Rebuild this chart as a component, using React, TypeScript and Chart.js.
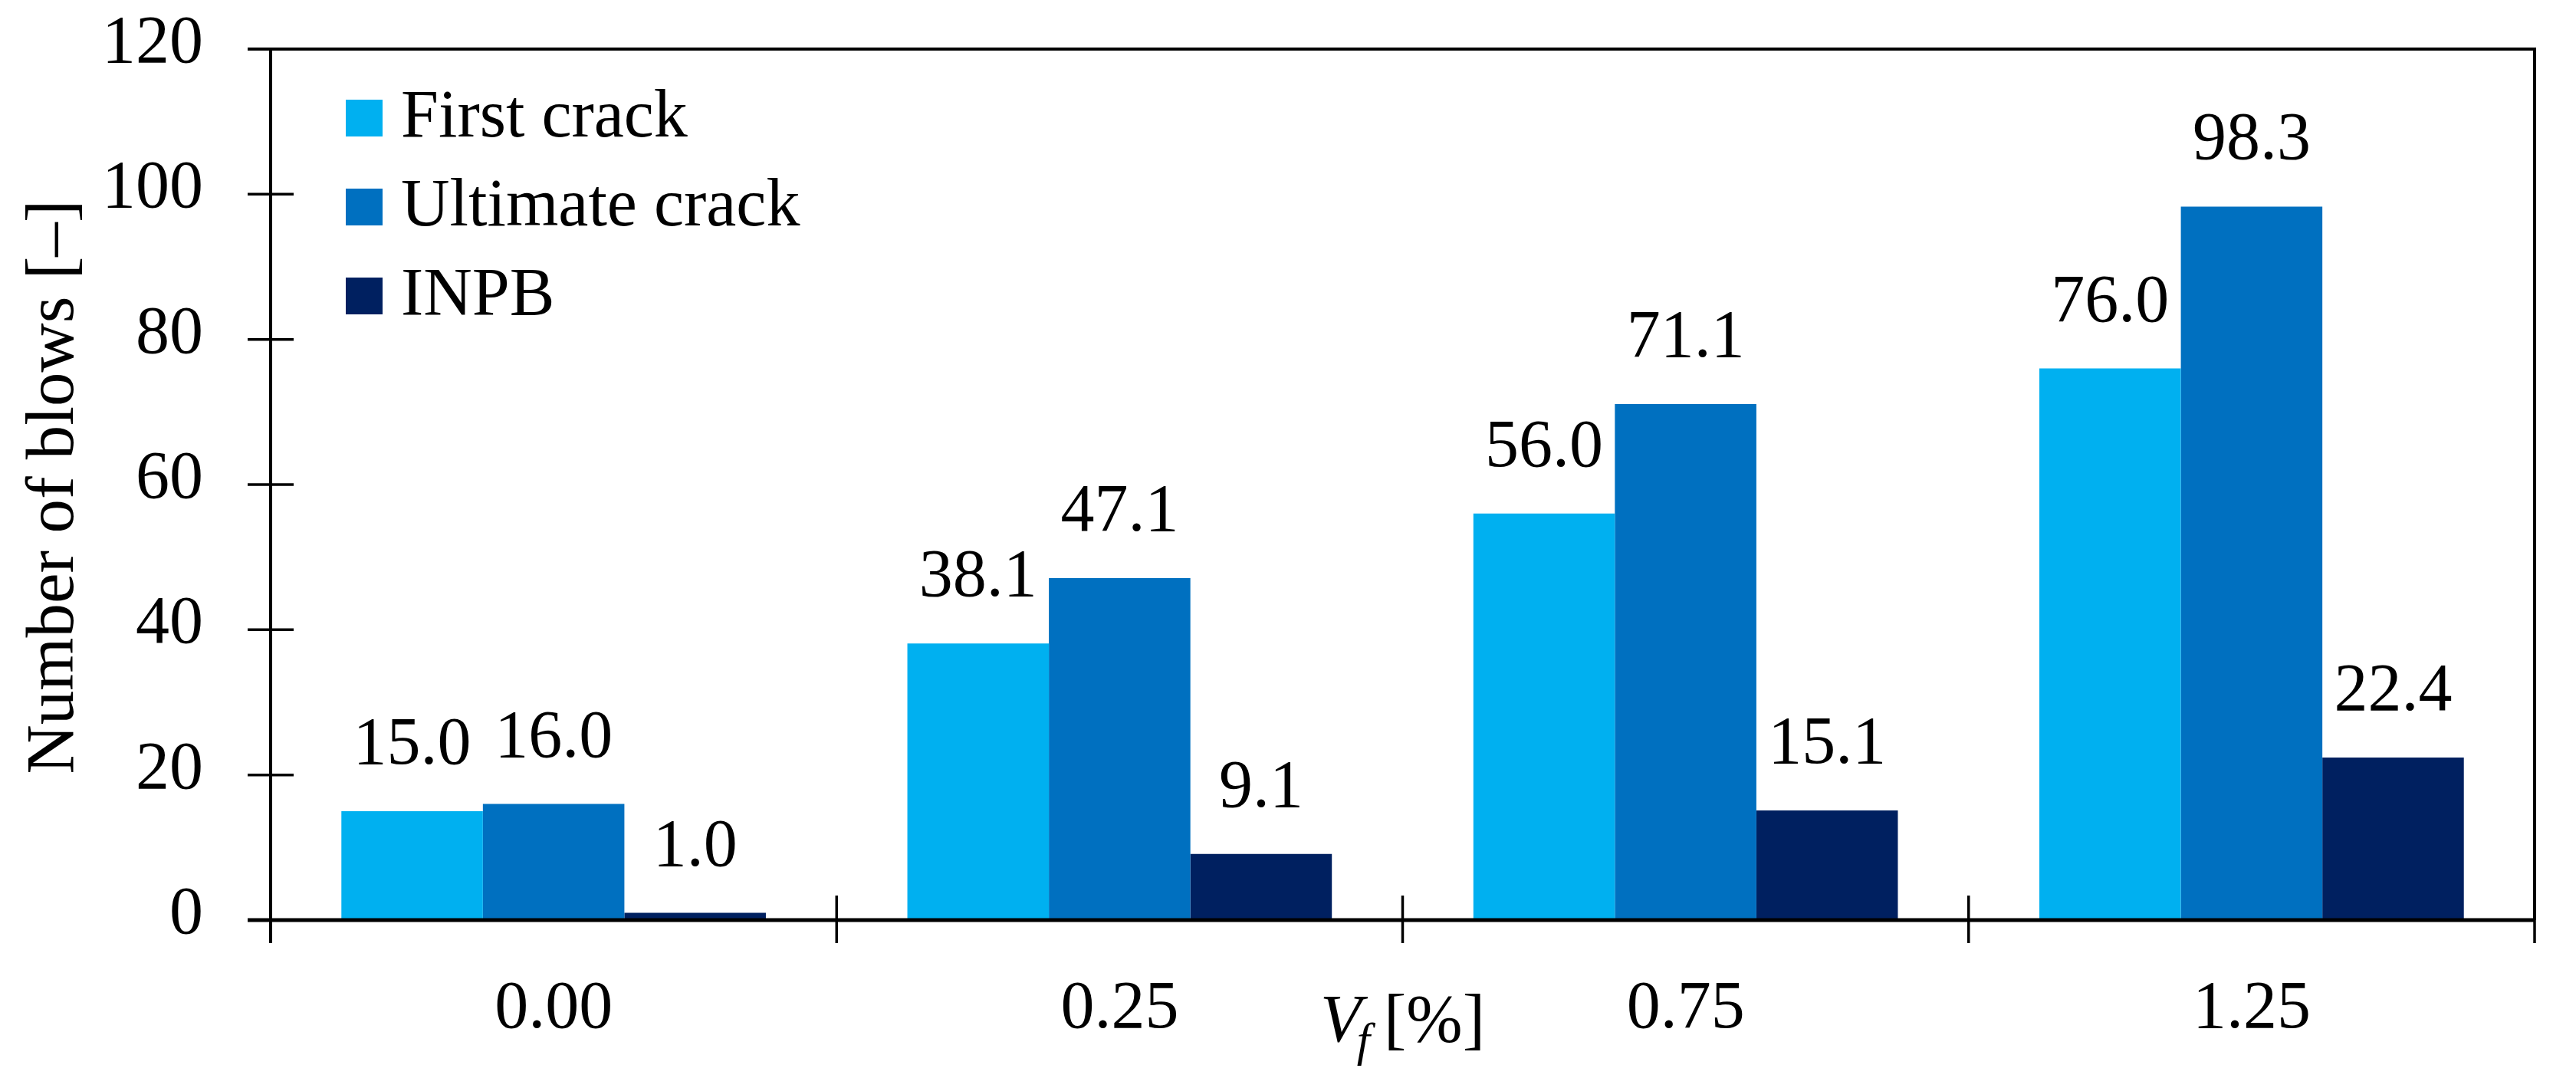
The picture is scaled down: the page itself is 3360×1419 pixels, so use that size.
import React, { useEffect, useRef } from 'react';
import { Chart, registerables } from 'chart.js';

Chart.register(...registerables);

const categories = ['0.00', '0.25', '0.75', '1.25'];
const firstCrack = [15.0, 38.1, 56.0, 76.0];
const ultimateCrack = [16.0, 47.1, 71.1, 98.3];
const inpb = [1.0, 9.1, 15.1, 22.4];
const seriesNames = ['First crack', 'Ultimate crack', 'INPB'];
const seriesColors = ['#00B0F0', '#0070C0', '#002060'];
const yMin = 0;
const yMax = 120;
const yStep = 20;
const yTitle = 'Number of blows [–]';
const xTitleMain = 'V';
const xTitleSub = 'f';
const xTitleUnit = '[%]';

const FONT = '"Liberation Serif", "Times New Roman", serif';

const framePlugin = {
  id: 'frame',
  afterDatasetsDraw(chart: any) {
    const ctx = chart.ctx;
    ctx.save();
    ctx.fillStyle = '#000';
    ctx.font = `88px ${FONT}`;
    ctx.textAlign = 'center';
    ctx.textBaseline = 'alphabetic';
    chart.data.datasets.forEach((ds: any, i: number) => {
      const meta = chart.getDatasetMeta(i);
      meta.data.forEach((bar: any, j: number) => {
        const v = ds.data[j];
        ctx.fillText(Number(v).toFixed(1), bar.x, bar.y - 62);
      });
    });
    ctx.restore();
  },
  afterDraw(chart: any) {
    const ctx = chart.ctx;
    const { left, right, top, bottom } = chart.chartArea;
    const yScale = chart.scales.y;
    ctx.save();
    ctx.strokeStyle = '#000';
    ctx.lineCap = 'butt';
    // box
    ctx.lineWidth = 4;
    ctx.beginPath();
    ctx.moveTo(left - 30, top);
    ctx.lineTo(right, top);
    ctx.lineTo(right, bottom);
    ctx.stroke();
    // y axis
    ctx.beginPath();
    ctx.moveTo(left, top);
    ctx.lineTo(left, bottom + 30);
    ctx.stroke();
    // x axis
    ctx.lineWidth = 5;
    ctx.beginPath();
    ctx.moveTo(left - 30, bottom);
    ctx.lineTo(right, bottom);
    ctx.stroke();
    // y ticks
    ctx.lineWidth = 3.5;
    yScale.ticks.forEach((t: any) => {
      const py = yScale.getPixelForValue(t.value);
      ctx.beginPath();
      ctx.moveTo(left - 30, py);
      ctx.lineTo(left + 30, py);
      ctx.stroke();
    });
    // x ticks at category boundaries
    const n = categories.length;
    for (let i = 0; i <= n; i++) {
      const px = left + (i * (right - left)) / n;
      ctx.beginPath();
      ctx.moveTo(px, bottom - 32);
      ctx.lineTo(px, bottom + 30);
      ctx.stroke();
    }

    // legend
    ctx.textAlign = 'left';
    ctx.textBaseline = 'alphabetic';
    ctx.font = `88px ${FONT}`;
    seriesNames.forEach((name, i) => {
      const sqTop = top + 66 + i * 116;
      ctx.fillStyle = seriesColors[i];
      ctx.fillRect(left + 98, sqTop, 48, 48);
      ctx.fillStyle = '#000';
      ctx.fillText(name, left + 170, sqTop + 48);
    });

    // y title
    ctx.save();
    ctx.translate(95, (top + bottom) / 2 + 3);
    ctx.rotate(-Math.PI / 2);
    ctx.font = `89px ${FONT}`;
    ctx.textAlign = 'center';
    ctx.textBaseline = 'alphabetic';
    ctx.fillStyle = '#000';
    ctx.fillText(yTitle, 0, 0);
    ctx.restore();

    // x title
    const cx = (left + right) / 2;
    const base = bottom + 158;
    ctx.fillStyle = '#000';
    ctx.font = `italic 88px ${FONT}`;
    const wV = ctx.measureText(xTitleMain).width;
    ctx.font = `italic 62px ${FONT}`;
    const wf = ctx.measureText(xTitleSub).width;
    ctx.font = `88px ${FONT}`;
    const wU = ctx.measureText(xTitleUnit).width;
    const total = wV - 6 + wf + 18 + wU;
    let x = cx - total / 2;
    ctx.textAlign = 'left';
    ctx.font = `italic 88px ${FONT}`;
    ctx.fillText(xTitleMain, x, base);
    x += wV - 6;
    ctx.font = `italic 62px ${FONT}`;
    ctx.fillText(xTitleSub, x, base + 19);
    x += wf + 18;
    ctx.font = `88px ${FONT}`;
    ctx.fillText(xTitleUnit, x, base);
    ctx.restore();
  },
};

export default function App() {
  const canvasRef = useRef<HTMLCanvasElement | null>(null);

  useEffect(() => {
    document.body.style.margin = '0';
    const canvas = canvasRef.current;
    if (!canvas) return;
    const values = [firstCrack, ultimateCrack, inpb];
    const chart = new Chart(canvas, {
      type: 'bar',
      data: {
        labels: categories,
        datasets: seriesNames.map((name, i) => ({
          label: name,
          data: values[i],
          backgroundColor: seriesColors[i],
          borderWidth: 0,
          barPercentage: 1.0,
          categoryPercentage: 0.75,
        })),
      },
      options: {
        animation: false,
        responsive: true,
        maintainAspectRatio: false,
        devicePixelRatio: 1,
        layout: { padding: { left: 0, right: 54, top: 64, bottom: 0 } },
        plugins: {
          legend: { display: false },
          tooltip: { enabled: false },
          title: { display: false },
        },
        scales: {
          x: {
            type: 'category',
            offset: true,
            grid: { display: false, drawTicks: false },
            border: { display: false },
            ticks: {
              color: '#000',
              font: { family: FONT, size: 88, lineHeight: 1.2 },
              padding: 64,
              maxRotation: 0,
              autoSkip: false,
            },
            afterFit: (scale: any) => {
              scale.height = 219;
              scale.paddingLeft = 0;
              scale.paddingRight = 0;
            },
          },
          y: {
            min: yMin,
            max: yMax,
            grid: { display: false, drawTicks: false },
            border: { display: false },
            ticks: {
              stepSize: yStep,
              color: '#000',
              font: { family: FONT, size: 88, lineHeight: 1.2 },
              padding: 88,
              labelOffset: -6,
            },
            afterFit: (scale: any) => {
              scale.width = 353;
              scale.paddingTop = 0;
              scale.paddingBottom = 0;
            },
          },
        },
      },
      plugins: [framePlugin],
    });
    return () => chart.destroy();
  }, []);

  return (
    <div style={{ width: 3360, height: 1419, position: 'relative', background: '#fff' }}>
      <canvas ref={canvasRef} />
    </div>
  );
}
